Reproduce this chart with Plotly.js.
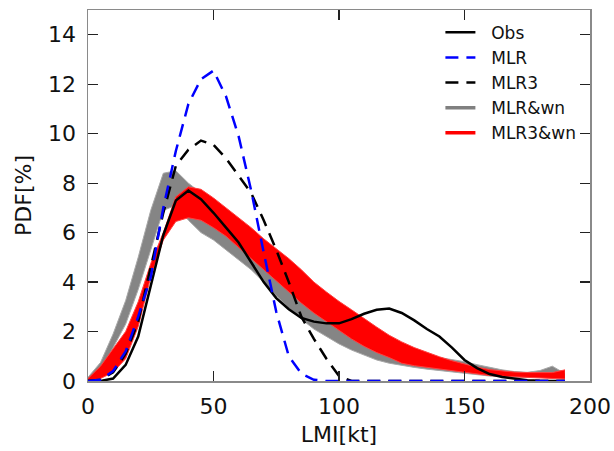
<!DOCTYPE html>
<html>
<head>
<meta charset="utf-8">
<script src="https://cdn.plot.ly/plotly-3.0.1.min.js"></script>
<style>html,body{margin:0;padding:0;background:#fff;}#chart{width:614px;height:451px;}</style>
</head>
<body>
<div id="chart"></div>
<script>
// LMI grid [kt]
const lmi = [0,5,10,15,20,25,30,35,40,45,50,55,60,65,70,75,80,85,90,95,100,105,110,115,120,125,130,135,140,145,150,155,160,165,170,175,180,185,190];

// Observed PDF [%]
const obs = [0,0.0,0.1,0.65,1.8,3.85,5.9,7.3,7.7,7.35,6.8,6.2,5.6,4.8,4.0,3.35,2.9,2.55,2.4,2.33,2.33,2.5,2.72,2.88,2.93,2.75,2.45,2.1,1.8,1.35,0.85,0.52,0.28,0.16,0.08,0.03,0.01,0,0];

// MLR (blue dashed)
const mlr = [0,0.05,0.4,1.2,2.6,4.2,7.0,9.3,11.2,12.2,12.55,11.5,9.9,7.7,5.2,2.8,1.0,0.3,0.05,0,0,0,0,0,0,0,0,0,0,0,0,0,0,0,0,0,0,0,0];

// MLR3 (black dashed)
const mlr3 = [0,0.05,0.35,1.1,2.4,4.6,6.8,8.7,9.35,9.72,9.55,9.0,8.3,7.6,6.5,5.3,4.0,2.6,1.7,0.9,0.2,0,0,0,0,0,0,0,0,0,0,0,0,0,0,0,0,0,0];

// MLR&wn ensemble envelope (gray)
const mlrWnLow = [0.02,0.4,1.35,2.3,3.7,5.3,6.9,7.1,6.5,6.0,5.7,5.3,4.9,4.5,4.0,3.45,2.95,2.5,2.1,1.8,1.5,1.25,1.05,0.85,0.72,0.62,0.55,0.48,0.42,0.36,0.3,0.25,0.2,0.17,0.15,0.14,0.14,0.17,0.1];
const mlrWnHigh = [0.15,0.75,1.9,3.25,5.0,6.9,8.4,8.5,8.0,7.6,7.0,6.5,6.0,5.55,5.1,4.65,4.2,3.8,3.4,3.0,2.65,2.3,2.0,1.72,1.48,1.28,1.12,1.0,0.95,0.88,0.78,0.66,0.55,0.45,0.38,0.35,0.42,0.6,0.3];

// MLR3&wn ensemble envelope (red)
const mlr3WnLow = [0,0.1,0.35,0.9,2.2,4.2,5.7,6.45,6.6,6.5,6.2,5.85,5.4,4.95,4.5,4.05,3.6,3.15,2.75,2.4,2.05,1.7,1.4,1.15,0.95,0.72,0.62,0.55,0.5,0.42,0.34,0.28,0.22,0.19,0.17,0.16,0.15,0.12,0.08];
const mlr3WnHigh = [0.1,0.6,1.3,2.0,3.2,4.75,6.0,7.45,7.85,7.75,7.4,7.0,6.6,6.2,5.75,5.35,4.95,4.5,4.0,3.6,3.22,2.88,2.52,2.18,1.85,1.58,1.35,1.15,0.98,0.82,0.68,0.56,0.46,0.4,0.36,0.34,0.33,0.34,0.45];

const seriesNames = ['Obs','MLR','MLR3','MLR&wn','MLR3&wn'];
const pad = '\u00a0\u00a0';

const traces = [
  {x: lmi, y: mlrWnLow, mode:'lines', line:{color:'#a8a8a8', width:1}, showlegend:false, hoverinfo:'skip'},
  {x: lmi, y: mlrWnHigh, mode:'lines', fill:'tonexty', fillcolor:'#858585', line:{color:'#a8a8a8', width:1}, showlegend:false, hoverinfo:'skip'},
  {x: lmi, y: mlr3WnLow, mode:'lines', line:{color:'#ff4040', width:1}, showlegend:false, hoverinfo:'skip'},
  {x: lmi, y: mlr3WnHigh, mode:'lines', fill:'tonexty', fillcolor:'#ff0000', line:{color:'#ff4040', width:1}, showlegend:false, hoverinfo:'skip'},
  {x: lmi, y: obs, mode:'lines', name: pad + seriesNames[0], legendrank:1, line:{color:'#000000', width:2.5}},
  {x: lmi, y: mlr3, mode:'lines', name: pad + seriesNames[2], legendrank:3, line:{color:'#000000', width:2.5, dash:'13px,8px'}},
  {x: lmi, y: mlr, mode:'lines', name: pad + seriesNames[1], legendrank:2, line:{color:'#0000ff', width:2.5, dash:'13px,8px'}},
  {x: [null], y: [null], mode:'lines', name: pad + seriesNames[3], legendrank:4, line:{color:'#808080', width:3.5}},
  {x: [null], y: [null], mode:'lines', name: pad + seriesNames[4], legendrank:5, line:{color:'#ff0000', width:3.5}}
];

const axisCommon = {
  showgrid:false, zeroline:false, ticks:'inside', ticklen:10, tickwidth:1.2, tickcolor:'#222',
  showline:true, linecolor:'#8a8a8a', linewidth:1.5, mirror:'allticks',
  tickfont:{family:'DejaVu Sans', size:22, color:'#111'}
};

const layout = {
  width:614, height:451,
  margin:{l:88, r:24, t:10, b:69.5},
  paper_bgcolor:'#ffffff', plot_bgcolor:'#ffffff',
  xaxis: Object.assign({}, axisCommon, {range:[0,200], tickvals:[0,50,100,150,200], ticklabelstandoff:5,
    title:{text:'LMI[kt]', font:{family:'DejaVu Sans', size:22, color:'#111'}, standoff:8}}),
  yaxis: Object.assign({}, axisCommon, {range:[0,15], tickvals:[0,2,4,6,8,10,12,14], ticklabelstandoff:6,
    title:{text:'PDF[%]', font:{family:'DejaVu Sans', size:22, color:'#111'}, standoff:10}}),
  legend:{x:0.702, y:0.987, xanchor:'left', yanchor:'top', bgcolor:'rgba(0,0,0,0)', borderwidth:0,
    traceorder:'normal',
    font:{family:'DejaVu Sans', size:17, color:'#111'}, itemwidth:30, tracegroupgap:5},
  showlegend:true
};

Plotly.newPlot('chart', traces, layout, {displayModeBar:false, staticPlot:true});
</script>
</body>
</html>
